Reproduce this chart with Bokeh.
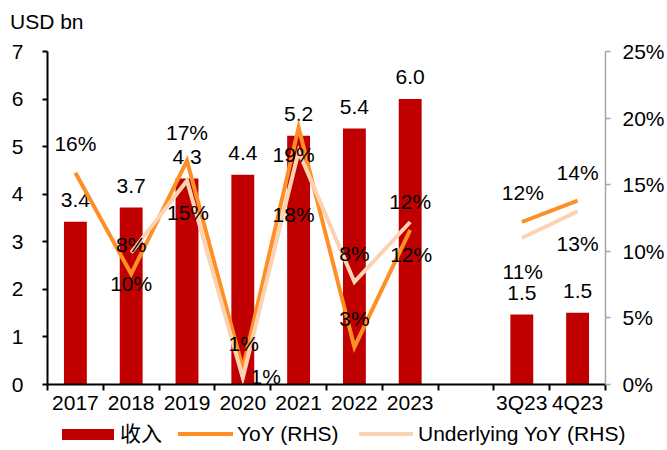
from bokeh.plotting import figure
from bokeh.layouts import column
from bokeh.models import Range1d, LinearAxis, FixedTicker, ColumnDataSource, Div
from bokeh.core.properties import value
from bokeh.embed import file_html
from bokeh.resources import INLINE

categories = ["2017", "2018", "2019", "2020", "2021", "2022", "2023", "", "3Q23", "4Q23"]
revenue = [3.42, 3.72, 4.33, 4.41, 5.23, 5.38, 6.0, None, 1.47, 1.51]
yoy = [15.9, 8.3, 16.8, 1.2, 19.3, 2.8, 11.6, None, 12.2, 13.8]
underlying = [None, 9.9, 15.3, 0.5, 17.5, 7.7, 12.2, None, 11.0, 13.0]
yoy_labels = ["16%", "8%", "17%", "1%", "19%", "3%", "12%", "", "12%", "14%"]
und_labels = ["", "10%", "15%", "1%", "18%", "8%", "12%", "", "11%", "13%"]
left_ticks = [0, 1, 2, 3, 4, 5, 6, 7]
right_ticks = [0, 5, 10, 15, 20, 25]
legend_labels = ["收入", "YoY (RHS)", "Underlying YoY (RHS)"]
unit_label = "USD bn"

# label offsets in screen pixels (style only)
yoy_dx = [0, 0, 0, 1, -5, 0, 0, 0, 1, 0]
yoy_dy = [-29, -29, -28, -25, 27, -29, -28, 0, -29, -28]
und_dx = [0, 0, 1, 23, -5, 0, 1, 0, 1, 0]
und_dy = [0, 31, 32, -1, 63, -28, 33, 0, 34, 32]

FONT = value("Liberation Sans")
FS = "21px"
RED = "#C00000"
ORANGE = "#FF8F24"
LIGHT = "#FBD3B3"

n = len(categories)
xs = [i + 0.5 for i in range(n)]
nan = float("nan")

# unit title strip
head = Div(text=('<div style="position:relative;width:667px;height:36px;font-family:\'Liberation Sans\';'
                 'font-size:21px;color:black;"><span style="position:absolute;left:10px;top:10px;'
                 f'line-height:24px;white-space:nowrap">{unit_label}</span></div>'),
           width=667, height=36, margin=0)

p = figure(width=667, height=380, output_backend="svg", toolbar_location=None, title=None,
           x_range=Range1d(0, n), y_range=Range1d(0, 7),
           min_border_left=47, min_border_right=59, min_border_top=15, min_border_bottom=32)
p.extra_y_ranges = {"pct": Range1d(0, 25)}
p.outline_line_color = None
p.xgrid.visible = False
p.ygrid.visible = False
p.background_fill_color = "white"
p.border_fill_color = "white"

# bars
bi = [i for i in range(n) if revenue[i] is not None]
bar_src = ColumnDataSource(dict(x=[xs[i] for i in bi], top=[revenue[i] for i in bi],
                                lab=[f"{revenue[i]:.1f}" for i in bi]))
p.vbar(x="x", top="top", width=0.41, source=bar_src, fill_color=RED, line_color=None)
p.text(x="x", y="top", text="lab", source=bar_src, y_offset=-22, text_align="center",
       text_baseline="middle", text_font=FONT, text_font_size=FS, text_color="black")

# lines
yoy_y = [nan if v is None else v for v in yoy]
und_y = [nan if v is None else v for v in underlying]
p.line(xs, yoy_y, y_range_name="pct", line_color=ORANGE, line_width=4, line_join="miter")
p.line(xs, und_y, y_range_name="pct", line_color=LIGHT, line_width=4, line_join="miter")

# line labels
yi = [i for i in range(n) if yoy[i] is not None]
p.text(x=[xs[i] for i in yi], y=[yoy[i] for i in yi], text=[yoy_labels[i] for i in yi],
       x_offset=[yoy_dx[i] for i in yi], y_offset=[yoy_dy[i] for i in yi], y_range_name="pct",
       text_align="center", text_baseline="middle", text_font=FONT, text_font_size=FS, text_color="black")
ui = [i for i in range(n) if underlying[i] is not None]
p.text(x=[xs[i] for i in ui], y=[underlying[i] for i in ui], text=[und_labels[i] for i in ui],
       x_offset=[und_dx[i] for i in ui], y_offset=[und_dy[i] for i in ui], y_range_name="pct",
       text_align="center", text_baseline="middle", text_font=FONT, text_font_size=FS, text_color="black")

# axes
yax = p.yaxis[0]
yax.ticker = FixedTicker(ticks=left_ticks)
yax.axis_line_color = "black"
yax.axis_line_width = 2
yax.major_tick_line_color = "black"
yax.major_tick_line_width = 2
yax.major_tick_out = 5
yax.major_tick_in = 0
yax.minor_tick_line_color = None
yax.major_label_standoff = 19
yax.major_label_text_font = "Liberation Sans"
yax.major_label_text_font_size = FS
yax.major_label_text_color = "black"

rax = LinearAxis(y_range_name="pct", ticker=FixedTicker(ticks=right_ticks),
                 major_label_overrides={t: f"{t}%" for t in right_ticks})
rax.axis_line_color = "#A6A6A6"
rax.axis_line_width = 1.5
rax.major_tick_line_color = "#A6A6A6"
rax.major_tick_line_width = 1.5
rax.major_tick_out = 5
rax.major_tick_in = 0
rax.minor_tick_line_color = None
rax.major_label_standoff = 12
rax.major_label_text_font = "Liberation Sans"
rax.major_label_text_font_size = FS
rax.major_label_text_color = "black"
p.add_layout(rax, "right")

xax = p.xaxis[0]
xax.ticker = FixedTicker(ticks=xs, minor_ticks=list(range(n + 1)))
xax.major_label_overrides = {x: c for x, c in zip(xs, categories)}
xax.axis_line_color = "black"
xax.axis_line_width = 2
xax.major_tick_out = 0
xax.major_tick_in = 0
xax.minor_tick_line_color = "black"
xax.minor_tick_line_width = 2
xax.minor_tick_out = 6
xax.minor_tick_in = 0
xax.major_label_standoff = 0
xax.major_label_text_font = "Liberation Sans"
xax.major_label_text_font_size = FS
xax.major_label_text_color = "black"

# legend strip as HTML (swatch style, left position, label)
swatches = [
    (f"width:52px;height:11px;top:13px;background:{RED}", 62, 120),
    (f"width:55px;height:4px;top:16px;background:{ORANGE}", 178, 237),
    (f"width:54px;height:4px;top:16px;background:{LIGHT}", 359, 418),
]
parts = []
for (sty, sx, tx), lab in zip(swatches, legend_labels):
    parts.append(f'<span style="position:absolute;left:{sx}px;{sty}"></span>')
    parts.append(f'<span style="position:absolute;left:{tx}px;top:6px;line-height:24px;white-space:nowrap">{lab}</span>')
html = ('<div style="position:relative;width:667px;height:34px;font-family:\'Liberation Sans\',\'Noto Sans CJK SC\';'
        'font-size:21px;color:black;">' + "".join(parts) + "</div>")
lg = Div(text=html, width=667, height=34, margin=0)

open("out.html", "w").write(file_html(column(head, p, lg, spacing=0), INLINE))
